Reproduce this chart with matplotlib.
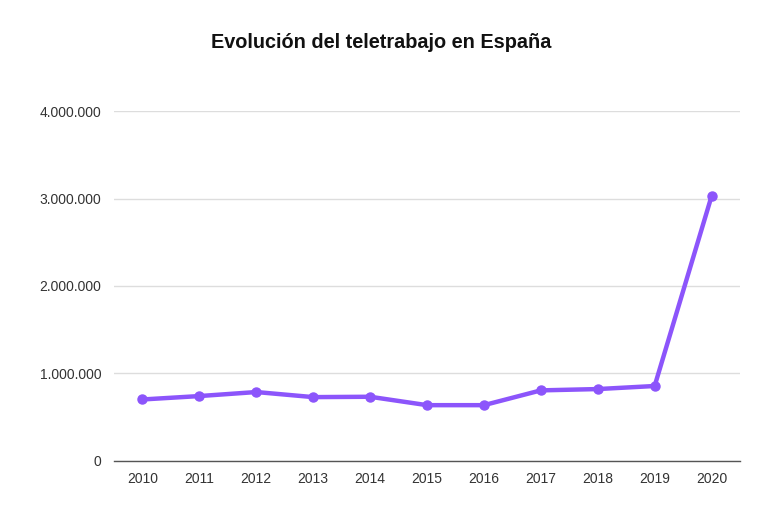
import matplotlib
matplotlib.use("Agg")
import matplotlib.pyplot as plt
from matplotlib.ticker import FuncFormatter

plt.rcParams["font.family"] = ["Liberation Sans", "DejaVu Sans"]

years = ["2010", "2011", "2012", "2013", "2014", "2015",
         "2016", "2017", "2018", "2019", "2020"]
teletrabajo = [703000, 742000, 788000, 730000, 734000, 638000,
               638000, 807000, 822000, 857000, 3026000]
y_ticks = [0, 1000000, 2000000, 3000000, 4000000]

LINE = "#8c55fb"

fig = plt.figure(figsize=(7.81, 5.13), dpi=100)
ax = fig.add_axes([0.146, 0.1014, 0.8015, 0.6822])

x = range(len(years))
ax.plot(x, teletrabajo, color=LINE, lw=3.2, marker="o", ms=6.5,
        solid_joinstyle="round", zorder=3, clip_on=False)

ax.set_xlim(-0.5, len(years) - 0.5)
ax.set_ylim(0, 4000000)
ax.set_xticks(list(x))
ax.set_xticklabels(years)
ax.set_yticks(y_ticks)
ax.yaxis.set_major_formatter(FuncFormatter(lambda v, _: f"{int(v):,}".replace(",", ".")))

ax.grid(axis="y", color="#dddddd", lw=1)
ax.set_axisbelow(True)
for s in ["top", "right", "left"]:
    ax.spines[s].set_visible(False)
ax.spines["bottom"].set_color("#555555")
ax.spines["bottom"].set_linewidth(1)
ax.tick_params(axis="both", length=0, labelsize=10, colors="#333333")
ax.tick_params(axis="x", pad=8)
ax.tick_params(axis="y", pad=9)

fig.text(0.488, 0.918, "Evolución del teletrabajo en España", ha="center", va="center",
         fontsize=14.3, fontweight="bold", color="#111111")

fig.savefig("out.png", dpi=100)
